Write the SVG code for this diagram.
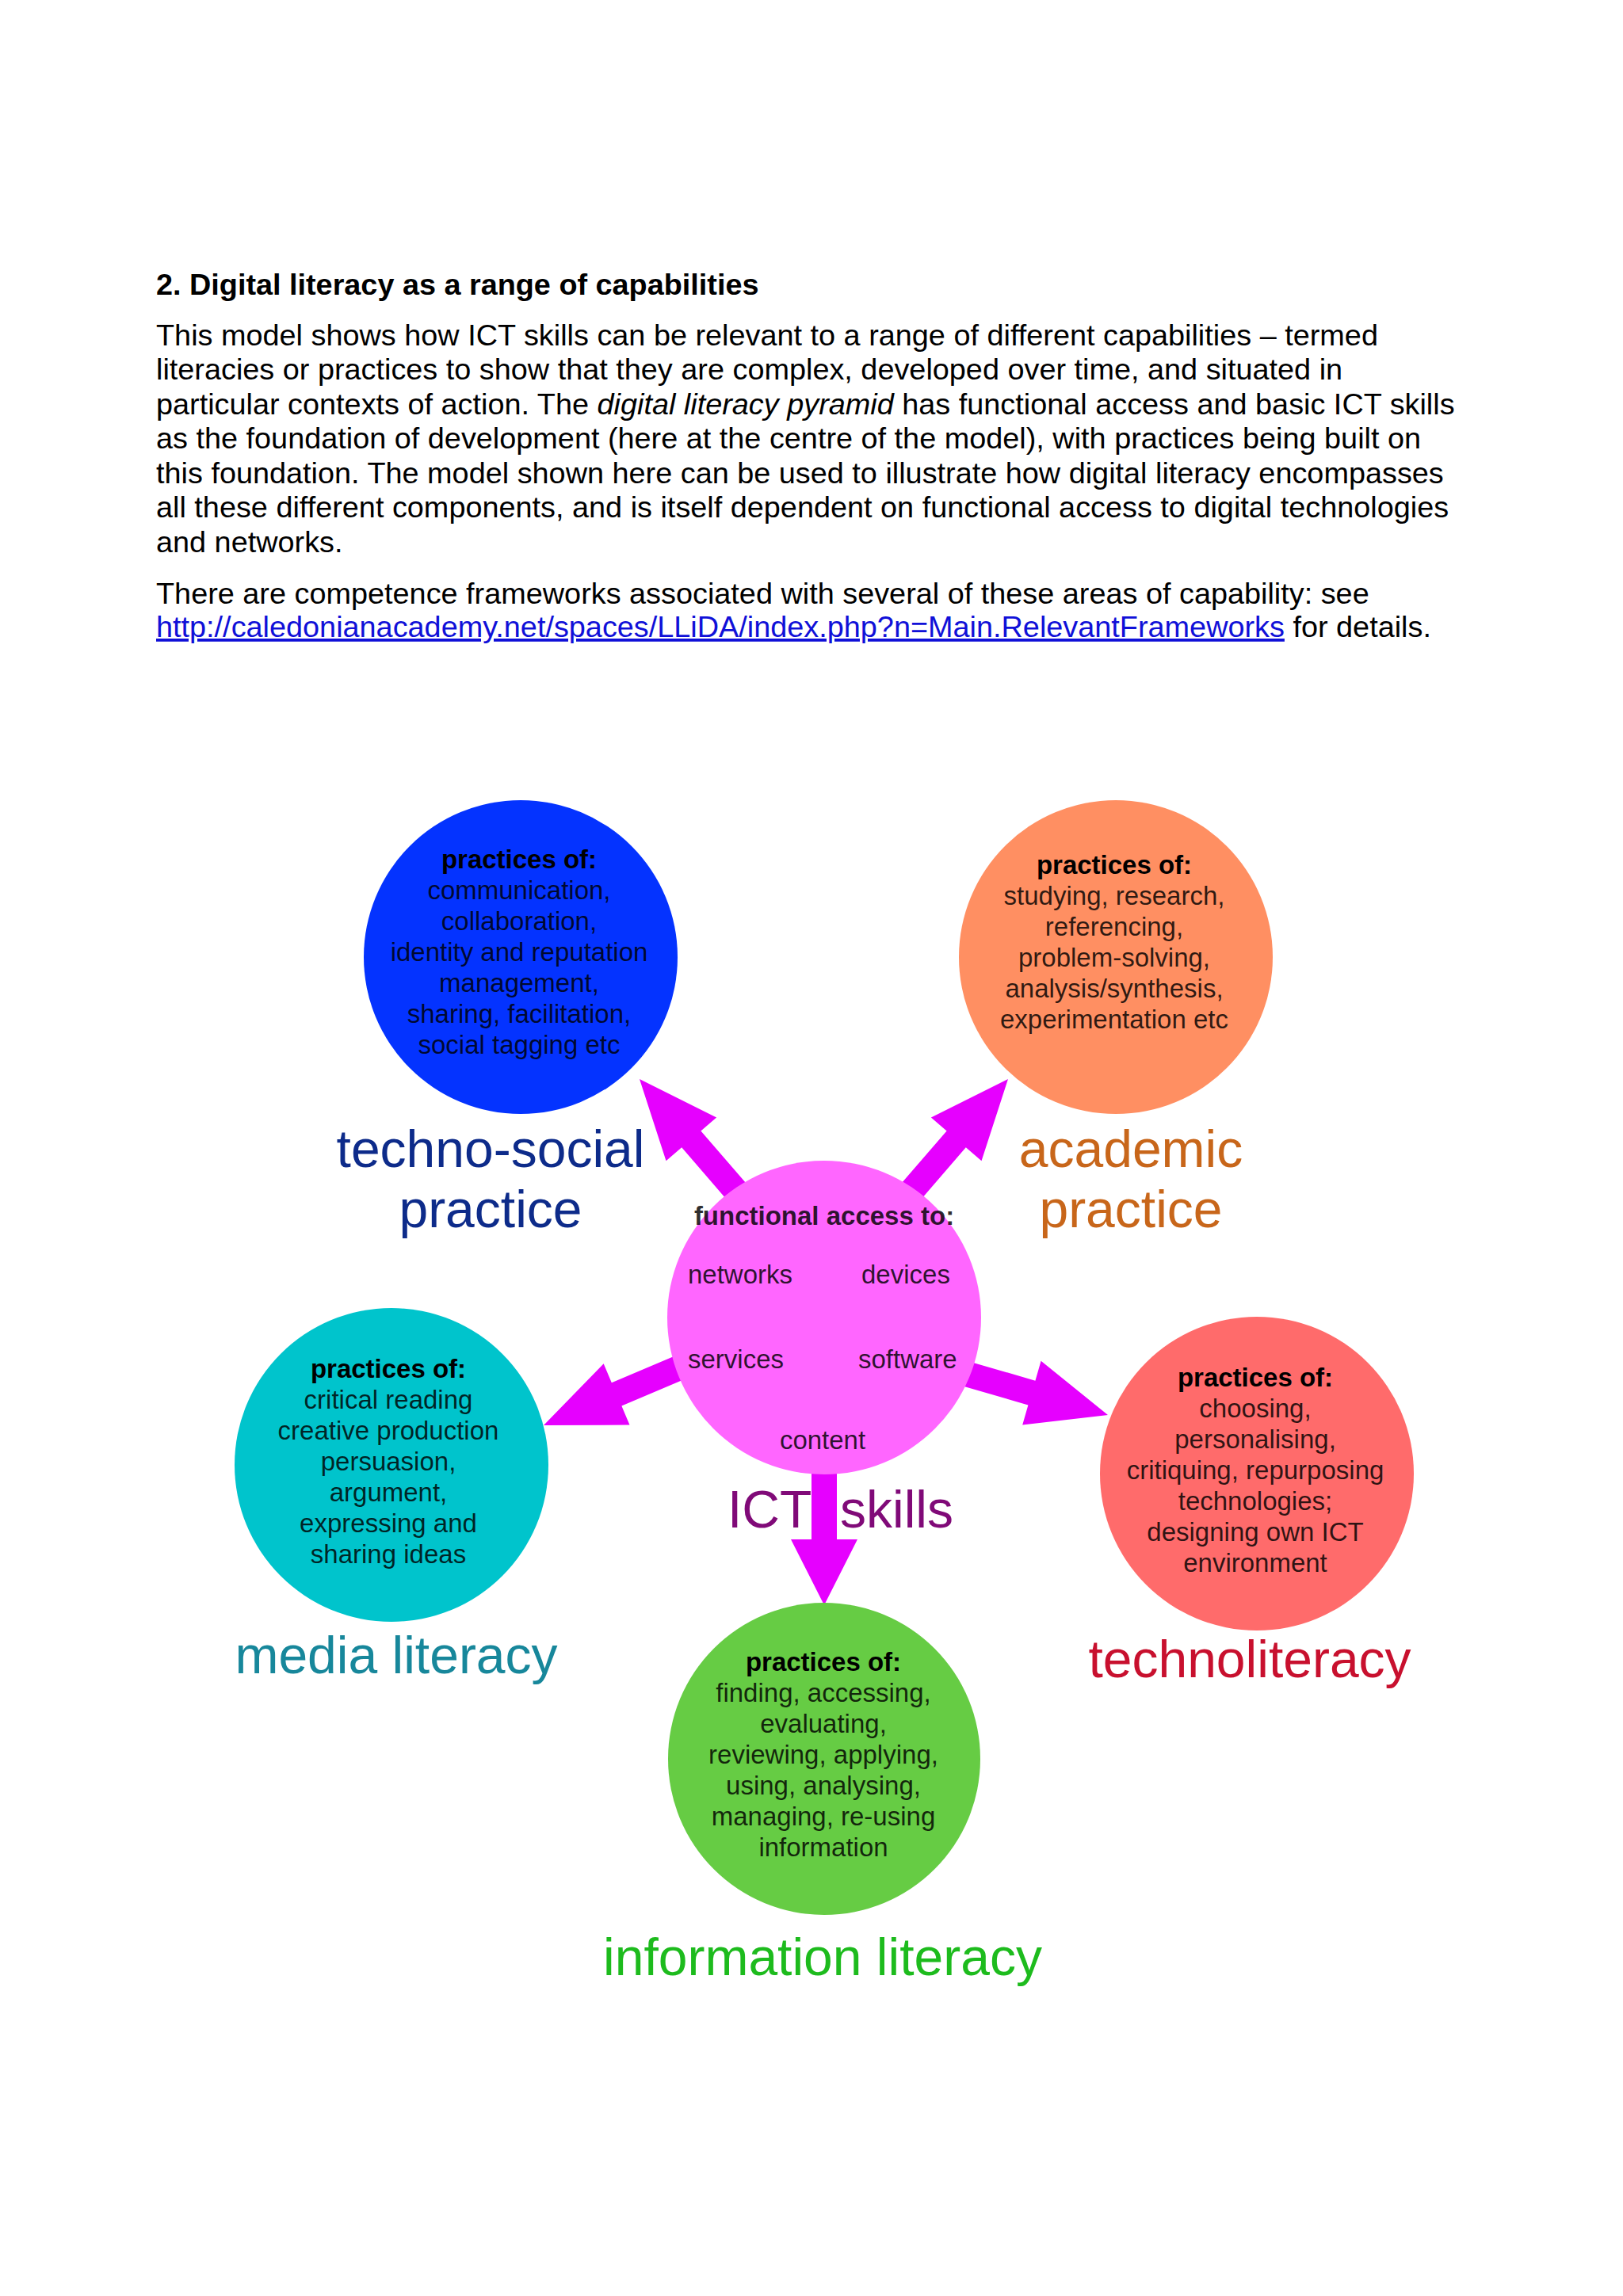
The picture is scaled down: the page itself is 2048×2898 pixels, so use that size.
<svg xmlns="http://www.w3.org/2000/svg" width="2048" height="2898" viewBox="0 0 2048 2898">
<style>
text{font-family:"Liberation Sans",Arial,Helvetica,sans-serif}
.h{font-size:37.8px;font-weight:bold;fill:#000}
.b{font-size:37.85px;fill:#000}
.lnk{fill:#1010d8;text-decoration:underline}
.c{font-size:33px;text-anchor:middle;fill:#000;fill-opacity:0.82}
.c .t{font-weight:bold;fill-opacity:1}
.p{font-size:33px;fill:#000;fill-opacity:0.82}
.lab{font-size:66px;text-anchor:middle}
.labs{font-size:66px;text-anchor:start}
.arr{fill:#E600FF}
</style>
<rect width="2048" height="2898" fill="#fff"/>
<g id="intro">
<text class="h" x="197" y="372">2. Digital literacy as a range of capabilities</text>
<text class="b" x="197" y="436">This model shows how ICT skills can be relevant to a range of different capabilities – termed</text>
<text class="b" x="197" y="479">literacies or practices to show that they are complex, developed over time, and situated in</text>
<text class="b" x="197" y="523">particular contexts of action. The <tspan font-style="italic">digital literacy pyramid</tspan> has functional access and basic ICT skills</text>
<text class="b" x="197" y="566">as the foundation of development (here at the centre of the model), with practices being built on</text>
<text class="b" x="197" y="610">this foundation. The model shown here can be used to illustrate how digital literacy encompasses</text>
<text class="b" x="197" y="653">all these different components, and is itself dependent on functional access to digital technologies</text>
<text class="b" x="197" y="697">and networks.</text>
<text class="b" x="197" y="762">There are competence frameworks associated with several of these areas of capability: see</text>
<text class="b" x="197" y="804"><tspan class="lnk">http://caledonianacademy.net/spaces/LLiDA/index.php?n=Main.RelevantFrameworks</tspan> for details.</text>
</g>
<g id="connectors">
<polygon class="arr" points="807,1362 904.1,1410.4 884.4,1427.4 949.7,1503.1 925.5,1524.1 860.2,1448.2 840.5,1465.2"/>
<polygon class="arr" points="1272,1362 1174.9,1410.4 1194.6,1427.4 1129.3,1503.1 1153.5,1524.1 1218.8,1448.2 1238.5,1465.2"/>
<polygon class="arr" points="686,1799 761.7,1721.2 771.8,1745.2 891.5,1694.4 904.1,1723.8 784.4,1774.6 794.5,1798.6"/>
<polygon class="arr" points="1398,1786 1313.6,1717.7 1306.4,1742.7 1181.5,1706.4 1172.5,1737.2 1297.4,1773.5 1290.2,1798.5"/>
<polygon class="arr" points="1040,2026 998,1943 1024,1943 1024,1820 1056,1820 1056,1943 1082,1943"/>
</g>
<g id="techno-social">
<circle cx="657" cy="1208" r="198" fill="#0433FF"/>
<text class="c"><tspan class="t" x="655" y="1096">practices of:</tspan><tspan x="655" y="1135">communication,</tspan><tspan x="655" y="1174">collaboration,</tspan><tspan x="655" y="1213">identity and reputation</tspan><tspan x="655" y="1252">management,</tspan><tspan x="655" y="1291">sharing, facilitation,</tspan><tspan x="655" y="1330">social tagging etc</tspan></text>
<text class="lab" fill="#0D2B8A"><tspan x="619" y="1473">techno-social</tspan><tspan x="619" y="1549">practice</tspan></text>
</g>
<g id="academic">
<circle cx="1408" cy="1208" r="198" fill="#FF8F62"/>
<text class="c"><tspan class="t" x="1406" y="1103">practices of:</tspan><tspan x="1406" y="1142">studying, research,</tspan><tspan x="1406" y="1181">referencing,</tspan><tspan x="1406" y="1220">problem-solving,</tspan><tspan x="1406" y="1259">analysis/synthesis,</tspan><tspan x="1406" y="1298">experimentation etc</tspan></text>
<text class="lab" fill="#C8661A"><tspan x="1427" y="1473">academic</tspan><tspan x="1427" y="1549">practice</tspan></text>
</g>
<g id="ict">
<circle cx="1040" cy="1663" r="198" fill="#FF66FF"/>
<text class="c" font-weight="bold" fill-opacity="1" x="1040" y="1546">functional access to:</text>
<text class="p" x="868" y="1620">networks</text>
<text class="p" x="1087" y="1620">devices</text>
<text class="p" x="868" y="1727">services</text>
<text class="p" x="1083" y="1727">software</text>
<text class="c" x="1038" y="1829">content</text>
<text class="labs" fill="#800A78"><tspan x="918" y="1928">ICT</tspan><tspan x="1060" y="1928">skills</tspan></text>
</g>
<g id="media">
<circle cx="494" cy="1849" r="198" fill="#00C4CC"/>
<text class="c"><tspan class="t" x="490" y="1739">practices of:</tspan><tspan x="490" y="1778">critical reading</tspan><tspan x="490" y="1817">creative production</tspan><tspan x="490" y="1856">persuasion,</tspan><tspan x="490" y="1895">argument,</tspan><tspan x="490" y="1934">expressing and</tspan><tspan x="490" y="1973">sharing ideas</tspan></text>
<text class="lab" fill="#17879B" x="500" y="2112">media literacy</text>
</g>
<g id="technoliteracy">
<circle cx="1586" cy="1860" r="198" fill="#FF6B6B"/>
<text class="c"><tspan class="t" x="1584" y="1750">practices of:</tspan><tspan x="1584" y="1789">choosing,</tspan><tspan x="1584" y="1828">personalising,</tspan><tspan x="1584" y="1867">critiquing, repurposing</tspan><tspan x="1584" y="1906">technologies;</tspan><tspan x="1584" y="1945">designing own ICT</tspan><tspan x="1584" y="1984">environment</tspan></text>
<text class="lab" fill="#C8102E" x="1577" y="2117">technoliteracy</text>
</g>
<g id="information">
<circle cx="1040" cy="2220" r="197" fill="#66CC44"/>
<text class="c"><tspan class="t" x="1039" y="2109">practices of:</tspan><tspan x="1039" y="2148">finding, accessing,</tspan><tspan x="1039" y="2187">evaluating,</tspan><tspan x="1039" y="2226">reviewing, applying,</tspan><tspan x="1039" y="2265">using, analysing,</tspan><tspan x="1039" y="2304">managing, re-using</tspan><tspan x="1039" y="2343">information</tspan></text>
<text class="lab" fill="#1DBB1D" x="1038" y="2493">information literacy</text>
</g>
</svg>
